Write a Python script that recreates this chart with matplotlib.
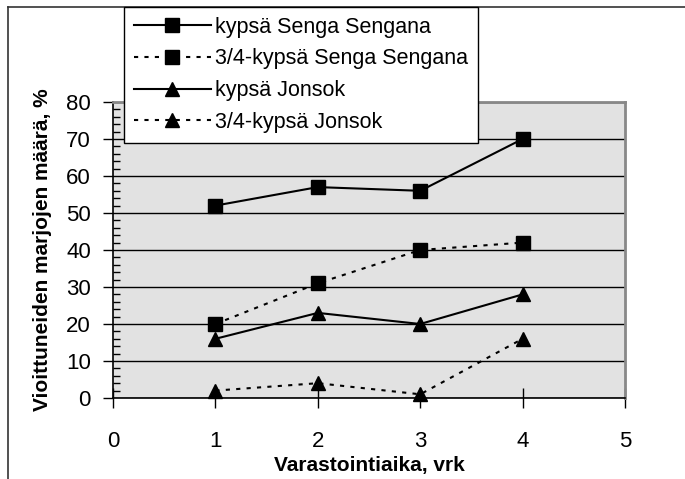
import matplotlib
matplotlib.use("Agg")
import matplotlib.pyplot as plt
from matplotlib.lines import Line2D
from matplotlib.ticker import MultipleLocator

plt.rcParams['font.family'] = ['Liberation Sans', 'DejaVu Sans']

# storage time (days)
days = [1, 2, 3, 4]
# share of damaged berries, %
ripe_senga = [52, 57, 56, 70]
ripe34_senga = [20, 31, 40, 42]
ripe_jonsok = [16, 23, 20, 28]
ripe34_jonsok = [2, 4, 1, 16]

labels = ["kypsä Senga Sengana", "3/4-kypsä Senga Sengana",
          "kypsä Jonsok", "3/4-kypsä Jonsok"]

fig = plt.figure(figsize=(6.85, 4.79), dpi=100)
ax = fig.add_axes([113/685, 1 - 398/479, 512/685, 296/479])
ax.set_facecolor("#e2e2e2")

dot = (0, (2, 3))
series = [
    (ripe_senga, "-", "s"),
    (ripe34_senga, dot, "s"),
    (ripe_jonsok, "-", "^"),
    (ripe34_jonsok, dot, "^"),
]
handles = []
for (vals, ls, mk), lab in zip(series, labels):
    ax.plot(days, vals, color="black", linestyle=ls, linewidth=1.5,
            marker=mk, markersize=10.5, clip_on=False, zorder=3)
    handles.append(Line2D([], [], color="black", linestyle=ls, linewidth=1.5,
                          marker=mk, markersize=10.5))

ax.set_xlim(0, 5)
ax.set_ylim(0, 80)
ax.xaxis.set_major_locator(MultipleLocator(1))
ax.yaxis.set_major_locator(MultipleLocator(10))
ax.yaxis.set_minor_locator(MultipleLocator(2))
ax.grid(axis="y", which="major", color="black", linewidth=1)
ax.set_axisbelow(True)

ax.tick_params(axis="y", which="major", direction="out", length=7,
               width=1, labelsize=16, pad=9)
ax.tick_params(axis="y", which="minor", direction="in", length=5, width=1)
ax.tick_params(axis="x", which="major", direction="inout", length=14,
               width=1, labelsize=16, pad=17)

for s in ["left", "bottom"]:
    ax.spines[s].set_color("black")
    ax.spines[s].set_linewidth(1.2)
for s in ["top", "right"]:
    ax.spines[s].set_color("#888888")
    ax.spines[s].set_linewidth(2)

ax.set_xlabel("Varastointiaika, vrk", fontsize=15, fontweight="bold", labelpad=3)
ax.set_ylabel("Vioittuneiden marjojen määrä, %", fontsize=15,
              fontweight="bold", labelpad=10)

leg = fig.legend(handles, labels, loc="upper left",
                 bbox_to_anchor=(124/685, 1 - 7/479), borderaxespad=0,
                 fontsize=15.5, frameon=True, fancybox=False, framealpha=1,
                 edgecolor="black", handlelength=3.6, handletextpad=0.2,
                 labelspacing=0.5, borderpad=0.45)
leg.get_frame().set_linewidth(1)
leg.set_zorder(10)

# outer frame lines at top and left
fig.add_artist(Line2D([8/685, 1], [1 - 7/479, 1 - 7/479], color="#333333",
                      linewidth=1.2, transform=fig.transFigure))
fig.add_artist(Line2D([8/685, 8/685], [0, 1 - 7/479], color="#333333",
                      linewidth=1.2, transform=fig.transFigure))

fig.savefig("out.png", dpi=100)
